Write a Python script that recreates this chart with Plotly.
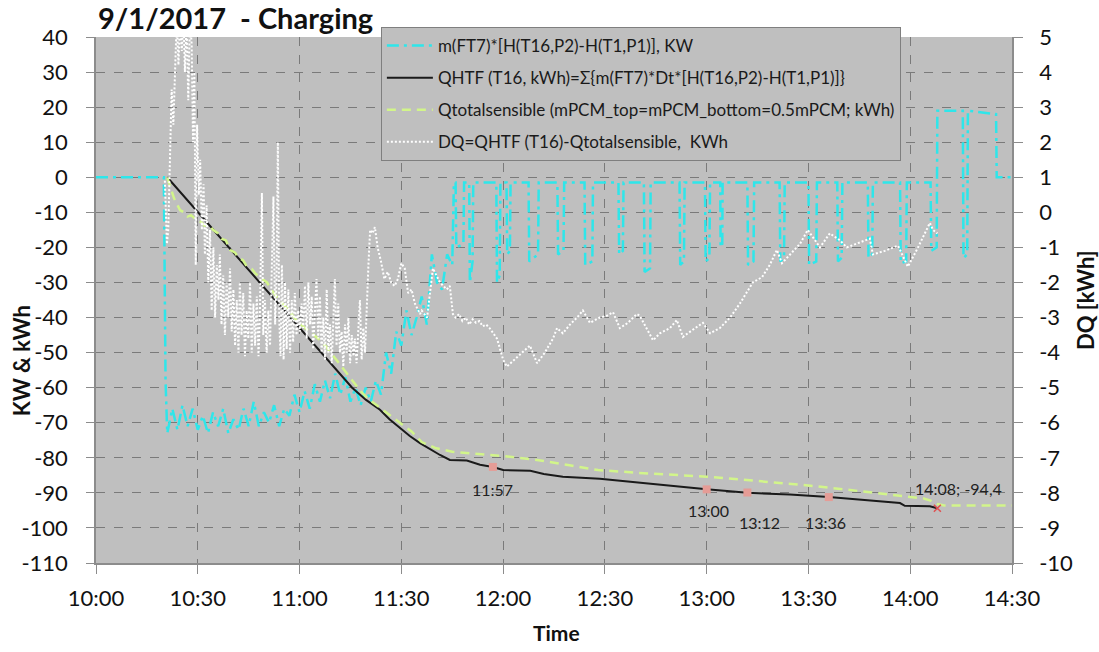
import pandas as pd
import plotly.graph_objects as go

BASE = pd.Timestamp("2017-01-09 10:00")

def to_time(mins):
    return [BASE + pd.Timedelta(minutes=m) for m in mins]

# ---------------- data (minutes after 10:00) ----------------
# m(FT7)*[H(T16,P2)-H(T1,P1)], KW  (left axis)
kw_min = [0, 20, 20.5, 21, 22.5, 24, 25.5, 27, 28.5, 30, 31.5, 33, 34.5, 36, 37.5, 39, 40.5, 42,
          43.5, 45, 46.5, 48, 49.5, 51, 52.5, 54, 55.5, 57, 58.5, 60, 61.5, 63, 64.5, 66, 67.5,
          69, 70.5, 72, 73.5, 75, 76.5, 78, 79.5, 81, 82.5, 84, 85.5, 87, 88.5, 90, 91.5, 93,
          94.5, 96, 97.5, 99, 100.5, 102, 103.5, 105,
          105.5, 106, 106.2, 108.3, 108.5, 110, 110.2, 111, 111.2,
          118, 118.2, 119, 119.2, 121, 121.2, 122, 122.2,
          127.5, 127.7, 130.3, 130.5, 136, 136.2, 137.8, 138,
          144, 144.2, 146.3, 146.5, 154, 154.2, 155.3, 155.5,
          161.5, 161.7, 163.3, 163.5, 172, 172.2, 173.3, 173.5,
          179.5, 179.7, 180.8, 181, 184, 184.1, 184.6, 184.7,
          192, 192.2, 193.8, 194, 201.5, 201.7, 202.8, 203,
          210, 210.2, 212.3, 212.5, 218.5, 218.7, 219.8, 220,
          227.5, 227.7, 228.8, 229, 237, 237.2, 238.8, 239,
          246, 246.2, 247.8, 248, 255.5, 255.7, 256.8, 257,
          265.3, 265.5, 270]
kw_val = [0, 0, -58, -73, -66, -72, -65, -71, -66, -72, -68, -73, -67, -71, -66, -73, -69, -72,
          -66, -71, -64, -71, -67, -70, -65, -71, -66, -68, -62, -67, -61, -66, -59, -64, -58,
          -63, -56, -62, -57, -64, -60, -65, -60, -64, -58, -62, -50, -56, -44, -48, -38, -45,
          -40, -34, -42, -22, -30, -32, -22, -25,
          -1.5, -1.5, -20, -19, -1.5, -1.5, -30, -24, -1.5,
          -1.5, -30, -28, -1.5, -1.5, -22, -21, -1.5,
          -1.5, -24, -22, -1.5, -1.5, -22, -21, -1.5,
          -1.5, -25, -24, -1.5, -1.5, -22, -21, -1.5,
          -1.5, -27, -26, -1.5, -1.5, -25, -24, -1.5,
          -1.5, -24, -23, -1.5, -1.5, -20, -19, -1.5,
          -1.5, -25, -24, -1.5, -1.5, -24, -23, -1.5,
          -1.5, -25, -24, -1.5, -1.5, -24, -23, -1.5,
          -1.5, -23, -22, -1.5, -1.5, -24.5, -24, -1.5,
          -1.5, -21, -20, 19, 19, -23, -22, 19,
          18, 0, 0]

# QHTF (left axis)
q_min = [21, 30, 40, 50, 60, 65, 70, 75.5, 79.6, 83.7, 86.5, 89.6, 92.5, 95.5, 98.5, 101.4,
         104.3, 109.3, 113.2, 117, 120, 128, 132, 137.6, 148.5, 163.3, 180, 192, 204.5, 216,
         225, 237, 238.4, 245.8, 248]
q_val = [0, -9.9, -20.9, -31.9, -42.9, -48.3, -54, -60, -63.5, -66.3, -69, -71.5, -73.8, -75.8,
         -77.6, -79.2, -80.6, -80.8, -82, -82.6, -83.5, -83.7, -84.6, -85.4, -86, -87.5, -89,
         -90, -90.5, -91.2, -92, -92.9, -93.7, -93.8, -94.4]

# Qtotalsensible (left axis)
qs_min = [21, 22, 23, 24.8, 26, 27, 28, 29.7, 31, 32, 33.2, 34.5, 36, 37, 38.3, 39.5, 41, 42,
          43.3, 44.5, 46, 47, 48.5, 50.4, 52, 54, 56.5, 59, 61, 63, 66, 68, 70, 72, 74, 76, 78,
          80, 82, 84, 86, 88, 90, 93, 96, 100, 105, 110, 115, 120, 125, 130, 140, 148, 160,
          170, 180, 190, 200, 208, 216, 225, 235, 240, 244, 246, 248, 250, 255, 270]
qs_val = [0, -3, -6, -9.4, -10, -11.2, -10.8, -12.3, -12.8, -13.8, -13.5, -15, -16, -17.5, -18,
          -20.7, -21.5, -23, -23.6, -25.5, -26.2, -27.5, -28.5, -30, -32.5, -35, -37.5, -40.7,
          -42.5, -44, -46.4, -48.5, -51, -53.5, -56, -58.5, -61, -63, -64.5, -66, -67.5, -69,
          -70.5, -72.5, -75.5, -77.2, -78.3, -78.8, -79.1, -79.5, -80, -80.6, -82.2, -83.5,
          -84.3, -84.8, -85.4, -86.2, -87, -87.7, -88.5, -89.5, -90.8, -91.3, -91.6, -92.2,
          -93.2, -93.6, -93.6, -93.6]

# DQ = QHTF - Qtotalsensible, kWh (right axis)
dq_min = [20.3, 20.9, 21.3, 21.8, 22.3, 22.8, 23.3, 23.8, 24.3, 24.8, 25.3, 25.8, 26.2, 26.7,
          27.2, 27.7, 28.2, 28.6, 29.0, 29.4, 29.8, 30.3, 30.7, 31.2, 31.7, 32.1, 32.6, 33.1,
          33.6, 34.1, 34.6, 35.1, 35.6, 36.1, 36.5, 37.0, 37.5, 38.0, 38.5, 39.0, 39.5, 40.0,
          40.5, 41.0, 41.5, 42.0, 42.4, 42.9, 43.4, 43.9, 44.4, 44.9, 45.4, 45.9, 46.4, 46.9,
          47.4, 47.9, 48.3, 48.9, 49.3, 49.8, 50.3, 50.8, 51.3, 51.8, 52.3, 52.8, 53.2, 53.6,
          54.0, 54.4, 54.8, 55.3, 55.7, 56.2, 56.7, 57.2, 57.7, 58.1, 58.6, 59.1, 59.6, 60.1,
          60.6, 61.1, 61.6, 62.1, 62.6, 63.1, 63.6, 64.0, 64.5, 65.0, 65.5, 66.0, 66.5, 67.0,
          67.5, 68.0, 68.5, 69.0, 69.5, 70.0, 70.4, 70.9, 71.4, 71.9, 72.4, 72.9, 73.4, 73.9,
          74.4, 74.9, 75.4, 75.9, 76.3, 76.8, 77.3, 77.8, 78.3, 78.8, 79.3, 79.8, 80.3, 80.8,
          81.5, 82.2, 83.0, 84.0, 85.0, 86.0, 87.0, 88.0, 89.0, 90.0, 91.0, 92.0, 93.0, 94.0,
          95.5, 96.0, 97.6, 99.3, 101.4, 103.4, 104.3, 105.2, 106, 107, 108, 109, 110, 111, 112,
          113, 114, 115, 116, 118.2, 120, 121.1, 123.5, 125.6, 127.9, 130, 132.3, 134.7, 135.9,
          137.6, 139.7, 141.8, 143.5, 145.6, 148.5, 150.6, 152.4, 154.4, 156.8, 159.4, 160.3,
          164.2, 166.2, 169.2, 171.2, 173, 175.9, 178.9, 181, 183.9, 186.9, 189.8, 193.6, 196.3,
          198.6, 200.7, 202.2, 204.5, 207.5, 209.8, 211.9, 213.4, 216.3, 219.3, 221.3, 225.2,
          228.1, 229, 232.5, 236.4, 239.3, 242.3, 245.8, 246.7, 248]
dq_val = [0.9, -0.9, -0.5, 1.5, 3.5, 2.5, 4.5, 5.5, 4.2, 5.5, 4.6, 5.6, 4.0, 5.5,
          3.2, 5.5, 4.8, 2.0, 4.0, -1.5, 2.5, 0.5, 1.5, -0.5, 0.8, -1.2, 0.2, -2.0,
          -0.5, -2.8, -1.0, -3.0, -1.5, -2.5, -1.2, -3.2, -1.8, -3.5, -2.0, -3.0, -1.6, -3.4,
          -2.2, -3.8, -2.5, -4.0, -2.0, -3.5, -2.3, -4.1, -2.8, -3.6, -2.0, -4.0, -2.6, -3.8,
          -2.4, -4.1, -3.0, 0.55, -3.5, -2.5, -4.0, -2.8, -3.8, -1.5, 0.45, -3.2, -2.0, 2.0,
          -3.0, -4.1, -1.5, -4.2, -2.0, -3.9, -2.2, -4.0, -2.5, -3.7, -2.3, -3.5, -2.8, -3.4,
          -2.6, -3.3, -2.1, -3.6, -2.0, -3.2, -2.4, -3.9, -3.0, -1.9, -3.6, -2.4, -4.0, -3.0,
          -4.2, -2.2, -4.0, -3.2, -4.3, -3.0, -1.9, -3.8, -2.6, -4.0, -3.4, -4.4, -3.2, -4.0,
          -3.0, -4.3, -3.5, -4.1, -3.6, -4.3, -3.2, -2.5, -4.2, -3.3, -4.0, -2.5, -1.5, -0.5,
          -0.6, -0.42, -1.0, -1.4, -1.9, -1.7, -2.0, -2.1, -1.9, -1.45, -1.6, -2.3, -2.2, -2.6,
          -2.9, -2.8, -3.0, -1.6, -2.0, -2.2, -2.1, -2.9, -3.0, -2.9, -3.1, -3.0, -3.2, -3.05, -3.15,
          -3.1, -3.25, -3.2, -3.3, -3.6, -4.2, -4.4, -4.2, -4.0, -3.8, -4.3, -4.0, -3.6, -3.3,
          -3.45, -3.2, -3.0, -2.8, -3.15, -3.0, -2.95, -2.85, -3.3, -3.15, -2.9, -2.95,
          -3.65, -3.45, -3.3, -3.07, -3.55, -3.35, -3.15, -3.45, -3.3, -3.0, -2.6, -2.0, -1.85,
          -1.5, -1.07, -1.45, -1.2, -0.9, -0.5, -0.8, -1.0, -0.6, -0.8, -1.0, -0.85,
          -0.75, -1.2, -1.1, -0.95, -1.55, -1.0, -0.3, -0.5, -0.6]

# highlighted points
pt_min = [117, 180, 192, 216]
pt_val = [-82.6, -89.0, -89.9, -91.2]
pt_label = ["11:57", "13:00", "13:12", "13:36"]
end_min = [248]
end_val = [-94.4]
end_label = ["14:08; -94,4"]

left_ticks = [40, 30, 20, 10, 0, -10, -20, -30, -40, -50, -60, -70, -80, -90, -100, -110]
right_ticks = [5, 4, 3, 2, 1, 0, -1, -2, -3, -4, -5, -6, -7, -8, -9, -10]

names = ["m(FT7)*[H(T16,P2)-H(T1,P1)], KW",
         "QHTF (T16, kWh)=Σ{m(FT7)*Dt*[H(T16,P2)-H(T1,P1)]}",
         "Qtotalsensible (mPCM_top=mPCM_bottom=0.5mPCM; kWh)",
         "DQ=QHTF (T16)-Qtotalsensible,  KWh"]

# ---------------- figure ----------------
FONT = "Lato, 'Open Sans', sans-serif"
GRID = "#7a7a7a"
AXIS = "#8c8c8c"

fig = go.Figure()
fig.add_trace(go.Scatter(x=to_time(kw_min), y=kw_val, mode="lines", name=names[0],
                         legendgroup="a",
                         line=dict(color="#2ee6ea", width=2.5, dash="12px,5px,3px,5px")))
fig.add_trace(go.Scatter(x=to_time(q_min), y=q_val, mode="lines", name=names[1],
                         legendgroup="b", line=dict(color="#1a1a1a", width=2)))
fig.add_trace(go.Scatter(x=to_time(qs_min), y=qs_val, mode="lines", name=names[2],
                         legendgroup="c",
                         line=dict(color="#d2f58a", width=2.5, dash="9px,6px")))
fig.add_trace(go.Scatter(x=to_time(dq_min), y=dq_val, mode="lines", name=names[3],
                         legendgroup="d", yaxis="y2",
                         line=dict(color="#ffffff", width=2, dash="2px,2px")))
fig.add_trace(go.Scatter(x=to_time(pt_min), y=pt_val, mode="markers", showlegend=False,
                         marker=dict(symbol="square", size=8, color="#e59c96",
                                     line=dict(width=0))))
fig.add_trace(go.Scatter(x=to_time(end_min), y=end_val, mode="markers", showlegend=False,
                         marker=dict(symbol="x-thin", size=7,
                                     line=dict(width=1.5, color="#e05050"))))

shifts = [(0, -23), (2, -21), (12, -30), (-3, -25)]
for m, v, lab, (dx, dy) in zip(pt_min, pt_val, pt_label, shifts):
    fig.add_annotation(x=to_time([m])[0], y=v, text=lab, showarrow=False,
                       xshift=dx, yshift=dy, font=dict(family=FONT, size=16, color="#222"))
for m, v, lab in zip(end_min, end_val, end_label):
    fig.add_annotation(x=to_time([m])[0], y=v, text=lab, showarrow=False,
                       xshift=21, yshift=20, font=dict(family=FONT, size=16, color="#222"))

# axis titles
fig.add_annotation(xref="paper", yref="paper", x=-0.081, y=0.385, text="<b>KW & kWh</b>",
                   xanchor="center", yanchor="middle",
                   textangle=-90, showarrow=False, font=dict(family=FONT, size=22, color="#111"))
fig.add_annotation(xref="paper", yref="paper", x=1.0797, y=0.5, text="<b>DQ [kWh]</b>",
                   xanchor="center", yanchor="middle",
                   textangle=-90, showarrow=False, font=dict(family=FONT, size=22, color="#111"))
fig.add_annotation(xref="paper", yref="paper", x=0.503, y=-0.133, text="<b>Time</b>",
                   xanchor="center", yanchor="middle",
                   showarrow=False, font=dict(family=FONT, size=21, color="#111"))

fig.update_layout(
    width=1099, height=652,
    margin=dict(l=96, r=87, t=37, b=89),
    paper_bgcolor="white", plot_bgcolor="#bfbfbf",
    font=dict(family=FONT, color="#111"),
    title=dict(text="<b>9/1/2017\u00a0 - Charging</b>", x=98 / 1099, xanchor="left",
               y=1 - 19 / 652, yanchor="middle", font=dict(family=FONT, size=29, color="#111")),
    showlegend=True,
    legend=dict(x=0.311, y=1.019, xanchor="left", yanchor="top", bgcolor="#bfbfbf",
                bordercolor="#7f7f7f", borderwidth=1, tracegroupgap=7, itemwidth=46,
                font=dict(family=FONT, size=17, color="#1a1a1a")),
    xaxis=dict(type="date", range=[BASE, BASE + pd.Timedelta(minutes=270)],
               dtick=1800000, tick0=BASE, tickformat="%H:%M",
               showgrid=True, gridcolor=GRID, griddash="dash", gridwidth=1,
               showline=True, linecolor=AXIS, linewidth=1.5,
               ticks="outside", ticklen=9, tickcolor=AXIS, zeroline=False,
               ticklabelstandoff=6, tickfont=dict(family=FONT, size=22, color="#111")),
    yaxis=dict(range=[-110, 40], tickvals=left_ticks, ticktext=[str(v) for v in left_ticks],
               showgrid=True, gridcolor=GRID, griddash="dash", gridwidth=1,
               showline=True, linecolor=AXIS, linewidth=1.5,
               ticks="outside", ticklen=8, tickcolor=AXIS, zeroline=False,
               ticklabelstandoff=14, tickfont=dict(family=FONT, size=22, color="#111")),
    yaxis2=dict(range=[-10, 5], tickvals=right_ticks, ticktext=[str(v) for v in right_ticks],
                overlaying="y", side="right", showgrid=False,
                showline=True, linecolor=AXIS, linewidth=1.5,
                ticks="outside", ticklen=9, tickcolor=AXIS, zeroline=False,
                ticklabelstandoff=12, tickfont=dict(family=FONT, size=22, color="#111")),
)

fig.write_html("out.html")
